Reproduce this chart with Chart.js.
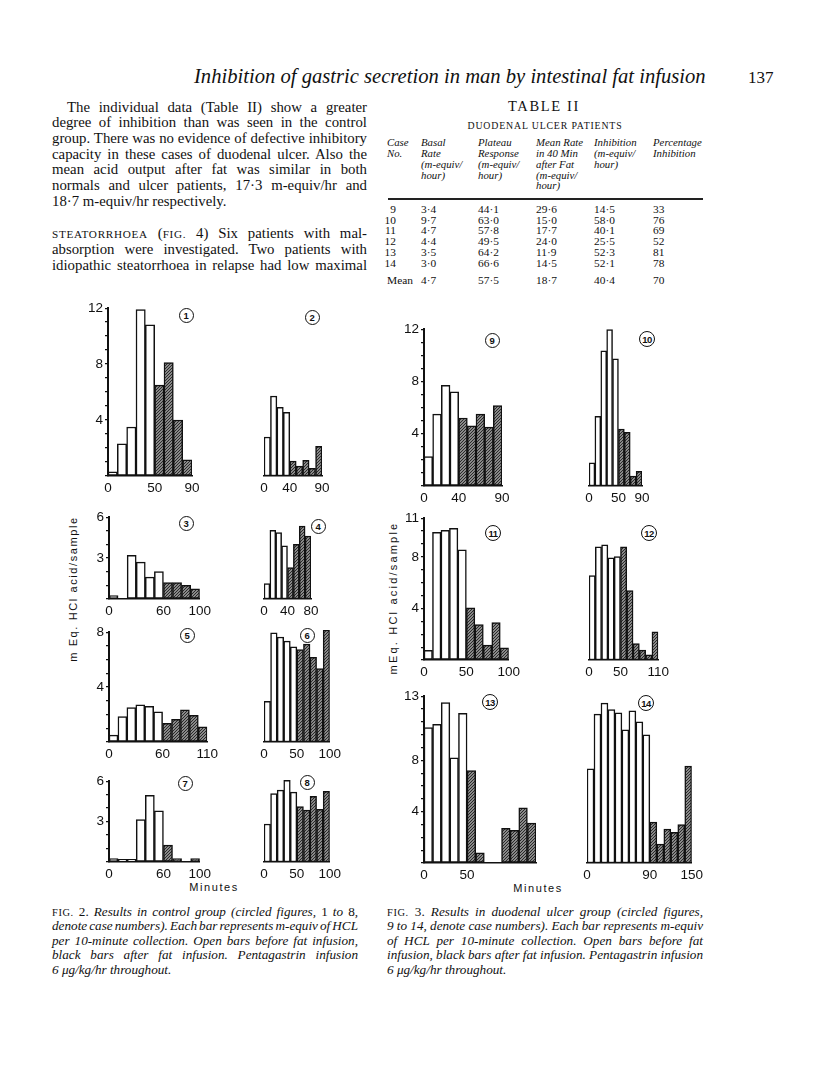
<!DOCTYPE html>
<html>
<head>
<meta charset="utf-8">
<title>Inhibition of gastric secretion - Fig. 2 and Fig. 3</title>
<script src="https://cdn.jsdelivr.net/npm/chart.js@4.4.1/dist/chart.umd.min.js"></script>
<style>
  html, body { margin: 0; padding: 0; background: #fff; }
  #page { position: relative; width: 816px; height: 1092px; overflow: hidden; color: #111; }
  .t { position: absolute; white-space: nowrap; line-height: 1; }
  .up { font-style: normal; }
  .circ { position: absolute; box-sizing: border-box; border: 1.5px solid #111; border-radius: 50%;
          font: bold 9.5px "Liberation Sans", Arial, sans-serif; color: #111;
          display: flex; align-items: center; justify-content: center; letter-spacing: -0.5px; }
  canvas { position: absolute; }
</style>
</head>
<body>
<div id="page"></div>
<script>
// mEq. HCl acid per 10-minute sample, one array per case
const case1  = [0.3, 2.3, 3.5, 11.9, 10.8, 6.5, 8.1, 4.0, 1.15];
const case2  = [2.75, 5.65, 4.85, 4.5, 1.05, 0.7, 1.1, 0.55, 2.1];
const case3  = [0.25, 0, 3.2, 2.7, 1.6, 2.0, 1.2, 1.2, 1.0, 0.75];
const case4  = [1.1, 4.9, 4.75, 3.8, 2.25, 3.9, 5.2, 4.5];
const case5  = [0.5, 1.85, 2.5, 2.7, 2.6, 2.2, 1.35, 1.65, 2.35, 1.95, 1.1];
const case6  = [2.9, 7.8, 7.5, 7.2, 6.8, 6.6, 7.0, 6.05, 5.25, 8.0];
const case7  = [0.25, 0.2, 0.2, 3.15, 4.95, 3.8, 1.25, 0.25, 0, 0.25];
const case8  = [2.75, 4.95, 5.2, 5.9, 5.05, 4.0, 3.75, 4.75, 3.8, 5.1];
const case9  = [2.25, 5.5, 7.7, 7.2, 5.2, 4.6, 5.5, 4.5, 6.15];
const case10 = [1.75, 5.25, 10.2, 11.8, 9.6, 4.3, 4.05, 0.75, 1.1];
const case11 = [0.75, 9.9, 10.05, 10.2, 8.55, 4.05, 2.75, 1.15, 2.9, 0.95];
const case12 = [6.45, 8.65, 8.8, 7.8, 7.9, 8.65, 5.3, 1.25, 0.75, 0.4, 2.15];
const case13 = [10.55, 10.8, 12.5, 8.2, 11.65, 7.2, 0.8, 0, 0, 2.7, 2.55, 4.3, 3.1];
const case14 = [7.25, 11.45, 12.3, 11.8, 11.55, 10.25, 11.7, 10.85, 9.85, 3.15, 1.45, 2.6, 2.35, 2.95, 7.45];

// number of open bars (samples before fat) for each case
const openBars = [5, 4, 6, 4, 6, 5, 6, 5, 4, 5, 5, 5, 5, 9];

// minutes shown under each panel
const minuteTicks = [[0, 50, 90], [0, 40, 90], [0, 60, 100], [0, 40, 80], [0, 60, 110], [0, 50, 100], [0, 60, 100],
                     [0, 50, 100], [0, 40, 90], [0, 50, 90], [0, 50, 100], [0, 50, 110], [0, 50], [0, 90, 150]];
// top of the acid axis, and the acid values that carry a label
const acidMax = [12, 12, 6, 6, 8, 8, 6, 6, 12, 12, 11, 11, 13, 13];
const acidLabels = [[4, 8, 12], [], [3, 6], [], [4, 8], [], [3, 6], [], [4, 8, 12], [], [4, 8, 11], [], [4, 8, 13], []];

const minutesPerSample = 10;

// where each panel's plot area sits on the page: left, right, top, bottom
const panelBox = [
  [108, 192, 306, 476], [238, 322, 306, 476],
  [109, 201, 515, 599], [238, 311, 515, 599],
  [109, 208, 630, 742], [238, 331, 630, 742],
  [109, 201, 779, 862], [238, 331, 779, 862],
  [424, 502, 327, 486], [563, 642, 327, 486],
  [424, 510, 516, 660], [563, 659, 516, 660],
  [424, 536, 694, 863], [561, 693, 694, 863]
];
const circlePos = [[186, 315], [312, 317], [186, 523], [318, 526], [187, 635], [307, 635], [185, 783], [307, 782],
                   [492, 340], [647, 339], [493, 533], [649, 533], [490, 702], [646, 703]];

const page = document.getElementById('page');
const SERIF = '"Liberation Serif", "Times New Roman", serif';
const SANS = '"Liberation Sans", Arial, sans-serif';

// put one line of text with its baseline at `base`
// o.w justifies it to a width, o.lw letter-spaces it to a width, o.fs sizes the font to a width
function txt(html, x, base, size, o = {}) {
  const d = document.createElement('div');
  d.className = 't';
  d.innerHTML = html;
  d.style.fontFamily = o.sans ? SANS : SERIF;
  d.style.fontSize = size + 'px';
  if (o.italic) d.style.fontStyle = 'italic';
  if (o.ls) d.style.letterSpacing = o.ls + 'px';
  d.style.left = x + 'px';
  page.appendChild(d);
  let nat = d.getBoundingClientRect().width;
  if (o.fs) {
    size = size * o.fs / nat;
    d.style.fontSize = size + 'px';
    nat = o.fs;
  }
  if (o.w) {
    const n = (d.textContent.match(/ /g) || []).length;
    if (n) d.style.wordSpacing = ((o.w - nat) / n) + 'px';
    nat = o.w;
  }
  if (o.lw) {
    const n = d.textContent.length;
    d.style.letterSpacing = ((o.lw - nat) / n) + 'px';
    nat = o.lw;
  }
  d.style.top = (base - size * (o.sans ? 0.8465 : 0.8375)) + 'px';
  if (o.align === 'center') d.style.left = (x - nat / 2) + 'px';
  if (o.align === 'right') d.style.left = (x - nat) + 'px';
  return d;
}

// running head
txt('Inhibition of gastric secretion in man by intestinal fat infusion', 194, 83, 17, {italic: true, fs: 512});
txt('137', 748, 83, 17);

// left column text
const sc = s => '<span style="font-size:11.2px;letter-spacing:0.7px">' + s + '</span>';
const BODY = 14.8;
const bodyLines = [
  'The individual data (Table II) show a greater',
  'degree of inhibition than was seen in the control',
  'group. There was no evidence of defective inhibitory',
  'capacity in these cases of duodenal ulcer. Also the',
  'mean acid output after fat was similar in both',
  'normals and ulcer patients, 17·3 m-equiv/hr and',
  '18·7 m-equiv/hr respectively.'
];
bodyLines.forEach((s, i) => {
  const last = i === bodyLines.length - 1;
  txt(s, i === 0 ? 67 : 52, 112 + i * 15.7, BODY, last ? {} : {w: i === 0 ? 300 : 315});
});
txt(sc('STEATORRHOEA') + ' (' + sc('FIG.') + ' 4) Six patients with mal-', 52, 238.5, BODY, {w: 315});
txt('absorption were investigated. Two patients with', 52, 254.2, BODY, {w: 315});
txt('idiopathic steatorrhoea in relapse had low maximal', 52, 269.9, BODY, {w: 315});

// Table II
txt('TABLE II', 544, 111, 14.5, {lw: 72, align: 'center'});
txt('DUODENAL ULCER PATIENTS', 545, 129, 9.8, {lw: 155, align: 'center'});
const colX = [387, 421, 478, 536, 594, 653];
const headBase = [146, 156.8, 167.7, 178.6, 189.4];
const headCols = [
  ['Case', 'No.'],
  ['Basal', 'Rate', '(m-equiv/', 'hour)'],
  ['Plateau', 'Response', '(m-equiv/', 'hour)'],
  ['Mean Rate', 'in 40 Min', 'after Fat', '(m-equiv/', 'hour)'],
  ['Inhibition', '(m-equiv/', 'hour)'],
  ['Percentage', 'Inhibition']
];
headCols.forEach((col, c) => col.forEach((s, r) => txt(s, colX[c], headBase[r], 10.8, {italic: true})));
const rule = document.createElement('div');
rule.style.cssText = 'position:absolute;left:388px;top:198px;width:315px;height:2px;background:#222;';
page.appendChild(rule);
const tableRows = [
  ['9', '3·4', '44·1', '29·6', '14·5', '33'],
  ['10', '9·7', '63·0', '15·0', '58·0', '76'],
  ['11', '4·7', '57·8', '17·7', '40·1', '69'],
  ['12', '4·4', '49·5', '24·0', '25·5', '52'],
  ['13', '3·5', '64·2', '11·9', '52·3', '81'],
  ['14', '3·0', '66·6', '14·5', '52·1', '78']
];
tableRows.forEach((row, r) => {
  const b = 213.3 + r * 10.8;
  txt(row[0], 396, b, 11.4, {align: 'right'});
  for (let c = 1; c < row.length; c++) txt(row[c], colX[c], b, 11.4);
});
const meanRow = ['Mean', '4·7', '57·5', '18·7', '40·4', '70'];
meanRow.forEach((s, c) => txt(s, c === 0 ? 387 : colX[c], 285, 11.4));

// captions
const up = s => '<span class="up">' + s + '</span>';
const capFig = n => up('<span style="font-size:10.4px;letter-spacing:0.6px">FIG.</span> ' + n + '.');
const cap2 = [
  capFig(2) + ' Results in control group (circled figures, ' + up('1') + ' to ' + up('8') + ',',
  'denote case numbers). Each bar represents m-equiv of HCL',
  'per 10-minute collection. Open bars before fat infusion,',
  'black bars after fat infusion. Pentagastrin infusion',
  '6 μg/kg/hr throughout.'
];
const cap3 = [
  capFig(3) + ' Results in duodenal ulcer group (circled figures,',
  '9 to 14, denote case numbers). Each bar represents m-equiv',
  'of HCL per 10-minute collection. Open bars before fat',
  'infusion, black bars after fat infusion. Pentagastrin infusion',
  '6 μg/kg/hr throughout.'
];
[[cap2, 52, 306], [cap3, 387, 316]].forEach(([lines, x, w]) => {
  lines.forEach((s, i) => {
    const o = {italic: true};
    if (i < lines.length - 1) o.w = w;
    txt(s, x, 916 + i * 14.5, 13.2, o);
  });
});

// axis titles
function vlabel(s, cx, cy, ls) {
  const d = document.createElement('div');
  d.className = 't';
  d.textContent = s;
  d.style.font = '11px ' + SANS;
  d.style.letterSpacing = ls + 'px';
  page.appendChild(d);
  const r = d.getBoundingClientRect();
  d.style.left = (cx - r.width / 2) + 'px';
  d.style.top = (cy - r.height / 2) + 'px';
  d.style.transform = 'rotate(-90deg)';
}
vlabel('m Eq. HCl acid/sample', 73, 589, 1.6);
vlabel('mEq. HCl acid/sample', 393, 598, 2.2);
txt('Minutes', 214, 891.5, 11, {sans: true, ls: 1.6, align: 'center'});
txt('Minutes', 538, 892, 11, {sans: true, ls: 1.6, align: 'center'});

// circled case numbers
circlePos.forEach(([cx, cy], k) => {
  const d = document.createElement('div');
  d.className = 'circ';
  const size = k >= 9 ? 16 : 15;
  d.style.left = (cx - size / 2) + 'px';
  d.style.top = (cy - size / 2) + 'px';
  d.style.width = size + 'px';
  d.style.height = size + 'px';
  d.textContent = String(k + 1);
  page.appendChild(d);
});

// dense hatch used for the bars after fat infusion
const hatchSrc = document.createElement('canvas');
hatchSrc.width = hatchSrc.height = 3;
(function () {
  const g = hatchSrc.getContext('2d');
  g.fillStyle = '#b4b4b4';
  g.fillRect(0, 0, 3, 3);
  g.strokeStyle = '#222';
  g.lineWidth = 1.1;
  g.beginPath();
  g.moveTo(0, 3); g.lineTo(3, 0);
  g.moveTo(-1, 1); g.lineTo(1, -1);
  g.moveTo(2, 4); g.lineTo(4, 2);
  g.stroke();
})();

Chart.defaults.font.family = SANS;
Chart.defaults.font.size = 13.5;
Chart.defaults.color = '#111';

const allCases = [case1, case2, case3, case4, case5, case6, case7, case8, case9, case10, case11, case12, case13, case14];
const PAD_T = 8, PAD_R = 14, X_H = 22, Y_W = 26;

allCases.forEach((vals, k) => {
  const [L, R, T, B] = panelBox[k];
  const withAxis = k % 2 === 0;
  const padL = withAxis ? 2 : 8;
  const cl = L - padL - (withAxis ? Y_W : 0);
  const cv = document.createElement('canvas');
  cv.width = R - cl + PAD_R;
  cv.height = B - T + PAD_T + X_H;
  cv.style.left = cl + 'px';
  cv.style.top = (T - PAD_T) + 'px';
  cv.style.width = cv.width + 'px';
  cv.style.height = cv.height + 'px';
  page.appendChild(cv);
  const ctx = cv.getContext('2d');
  const hatch = ctx.createPattern(hatchSrc, 'repeat');
  const nOpen = openBars[k];
  const labelled = acidLabels[k];
  const ymax = acidMax[k];

  new Chart(ctx, {
    type: 'bar',
    data: {
      datasets: [{
        data: vals.map((v, i) => ({x: i * minutesPerSample + minutesPerSample / 2, y: v})),
        backgroundColor: c => c.dataIndex < nOpen ? '#fff' : hatch,
        borderColor: '#111',
        borderWidth: 1.5,
        borderSkipped: false,
        barPercentage: 1,
        categoryPercentage: 1
      }]
    },
    options: {
      responsive: false,
      animation: false,
      devicePixelRatio: 1,
      layout: {padding: {left: padL, right: PAD_R, top: PAD_T, bottom: 0}},
      plugins: {legend: {display: false}, tooltip: {enabled: false}},
      scales: {
        x: {
          type: 'linear',
          offset: false,
          min: 0,
          max: vals.length * minutesPerSample,
          afterBuildTicks: s => { s.ticks = minuteTicks[k].map(v => ({value: v})); },
          afterFit: s => { s.height = X_H; },
          grid: {offset: false, drawOnChartArea: false, drawTicks: false},
          border: {display: true, color: '#111', width: 1.5},
          ticks: {padding: 4, autoSkip: false, maxRotation: 0, callback: v => String(v)}
        },
        y: {
          display: withAxis,
          min: 0,
          max: ymax,
          afterBuildTicks: s => {
            const t = [];
            for (let v = 0; v <= ymax; v++) t.push({value: v});
            s.ticks = t;
          },
          afterFit: s => { s.width = Y_W; },
          grid: {drawOnChartArea: false, drawTicks: true, tickLength: 3, color: '#111', lineWidth: 1.2},
          border: {display: true, color: '#111', width: 2},
          ticks: {padding: 2, autoSkip: false, callback: v => labelled.includes(v) ? String(v) : ''}
        }
      }
    }
  });
});
</script>
</body>
</html>
